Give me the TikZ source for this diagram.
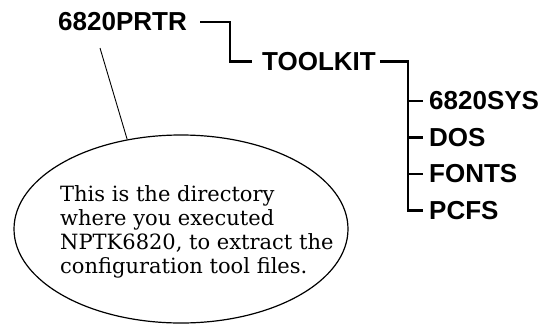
\documentclass[tikz,border=0pt]{standalone}
\usepackage{fontspec}
\usetikzlibrary{shapes.geometric}
\newfontfamily\dirfont{Liberation Sans}
\newfontfamily\notefont{DejaVu Serif}
\tikzset{
  dirlabel/.style={inner sep=0pt, anchor=west, font=\dirfont\bfseries\fontsize{26}{30}\selectfont},
  treeline/.style={line width=2.2pt},
  bubble/.style={draw, ellipse, line width=1.2pt, inner sep=0pt, minimum width=334pt, minimum height=188pt},
  notetext/.style={inner sep=0pt, anchor=north west, align=left, font=\notefont\fontsize{21}{24}\selectfont},
  pointer/.style={line width=0.9pt}
}
\begin{document}
\begin{tikzpicture}[x=1pt,y=1pt]
\useasboundingbox (0,0) rectangle (545,-324);
% directory labels
\node[dirlabel] (prtr) at (58,-22) {6820PRTR};
\node[dirlabel] (toolkit) at (262,-61.5) {TOOLKIT};
\node[dirlabel] (sys) at (429,-101) {6820SYS};
\node[dirlabel] (dos) at (429,-137.5) {DOS};
\node[dirlabel] (fonts) at (429,-174) {FONTS};
\node[dirlabel] (pcfs) at (429,-210.5) {PCFS};
% tree connectors
\draw[treeline] ([xshift=13pt]prtr.east) -- ++(30,0) |- ([xshift=-10pt]toolkit.west);
\draw[treeline] ([xshift=4pt]toolkit.east) -- ++(28,0) coordinate (v) |- ([xshift=-6pt]pcfs.west);
\draw[treeline] (v |- sys.west) -- ([xshift=-6pt]sys.west);
\draw[treeline] (v |- dos.west) -- ([xshift=-6pt]dos.west);
\draw[treeline] (v |- fonts.west) -- ([xshift=-6pt]fonts.west);
% callout
\node[bubble] (ell) at (181,-229) {};
\node[notetext] (txt) at (60,-185.5) {This is the directory\\where you executed\\NPTK6820, to extract the\\configuration tool files.};
\coordinate (ptop) at (100,-48);
\draw[pointer] (ptop) -- (ell.121);
\end{tikzpicture}
\end{document}
